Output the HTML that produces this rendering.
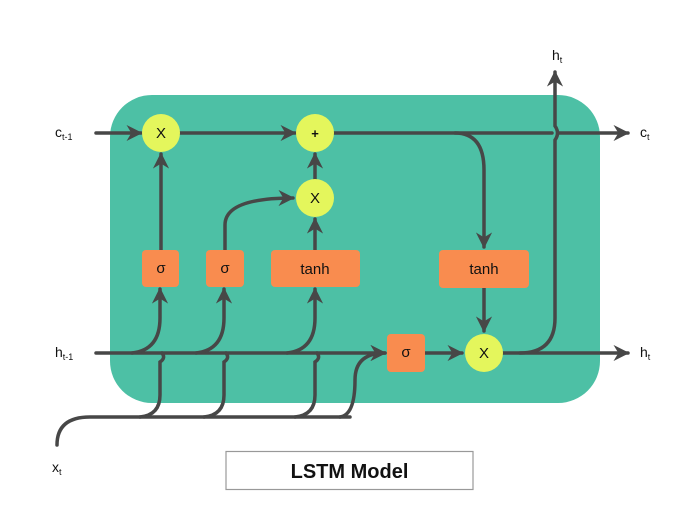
<!DOCTYPE html>
<html><head><meta charset="utf-8"><style>
html,body{margin:0;padding:0;background:#fff;}
svg{display:block;}
text{font-family:"Liberation Sans",sans-serif;}
</style></head><body>
<svg width="700" height="525" viewBox="0 0 700 525" xmlns="http://www.w3.org/2000/svg">
<defs>
<marker id="a" viewBox="0 0 10 10" refX="9" refY="5" markerWidth="4.6" markerHeight="4.6" orient="auto" markerUnits="strokeWidth">
<path d="M0,0 L10,5 L0,10 L3,5 z" fill="#474747"/>
</marker>
</defs>
<rect x="110" y="95" width="490" height="308" rx="42" fill="#4dc0a5"/>
<g fill="none" stroke="#474747" stroke-width="3.5" stroke-linecap="round">
<path d="M96,133 L141,133" marker-end="url(#a)"/>
<path d="M180,133 L295,133" marker-end="url(#a)"/>
<path d="M334,133 L552,133 M559,133 L628,133" marker-end="url(#a)"/>
<path d="M455,133 Q484,133 484,170 L484,247" marker-end="url(#a)"/>
<path d="M161,250 L161,154" marker-end="url(#a)"/>
<path d="M315,180 L315,154" marker-end="url(#a)"/>
<path d="M315,250 L315,219" marker-end="url(#a)"/>
<path d="M225,250 L225,225 Q225,198 293,198" marker-end="url(#a)"/>
<path d="M484,288 L484,331" marker-end="url(#a)"/>
<path d="M96,353 L385,353" marker-end="url(#a)"/>
<path d="M425,353 L462,353" marker-end="url(#a)"/>
<path d="M503,353 L628,353" marker-end="url(#a)"/>
<path d="M520,353 Q555,353 555,318 L555,140 Q560,133 555,126 L555,72" marker-end="url(#a)"/>
<path d="M132,353 Q160,350 160,318 L160,289" marker-end="url(#a)"/>
<path d="M196,353 Q224,350 224,318 L224,289" marker-end="url(#a)"/>
<path d="M287,353 Q315,350 315,318 L315,289" marker-end="url(#a)"/>
<path d="M57,445 Q57,417 90,417 L350,417"/>
<path d="M140,417 Q160,415 160,395 L160,362 Q166,358 162,353"/>
<path d="M204,417 Q224,415 224,395 L224,362 Q230,358 226,353"/>
<path d="M295,417 Q315,415 315,395 L315,362 Q321,358 317,353"/>
<path d="M340,417 Q355,415 355,380 Q355,353 385,353" marker-end="url(#a)"/>
</g>
<g fill="#f98c4f">
<rect x="142" y="250" width="37" height="37" rx="4"/>
<rect x="206" y="250" width="38" height="37" rx="4"/>
<rect x="271" y="250" width="89" height="37" rx="4"/>
<rect x="439" y="250" width="90" height="38" rx="4"/>
<rect x="387" y="334" width="38" height="38" rx="4"/>
</g>
<g fill="#e4f65c">
<circle cx="161" cy="133" r="19"/>
<circle cx="315" cy="133" r="19"/>
<circle cx="315" cy="198" r="19"/>
<circle cx="484" cy="353" r="19"/>
</g>
<g font-size="15" fill="#111" text-anchor="middle">
<text x="161" y="138">X</text>
<text x="315" y="138" font-size="13" font-weight="bold">+</text>
<text x="315" y="203">X</text>
<text x="484" y="358">X</text>
<text x="161" y="273">σ</text>
<text x="225" y="273">σ</text>
<text x="406" y="357">σ</text>
<text x="315" y="274">tanh</text>
<text x="484" y="274">tanh</text>
</g>
<g font-size="14" fill="#111">
<text x="55" y="137">c<tspan font-size="9" dy="3">t-1</tspan></text>
<text x="55" y="357">h<tspan font-size="9" dy="3">t-1</tspan></text>
<text x="640" y="137">c<tspan font-size="9" dy="3">t</tspan></text>
<text x="640" y="357">h<tspan font-size="9" dy="3">t</tspan></text>
<text x="552" y="60">h<tspan font-size="9" dy="3">t</tspan></text>
<text x="52" y="472">x<tspan font-size="9" dy="3">t</tspan></text>
</g>
<rect x="226" y="451.5" width="247" height="38" fill="#fff" stroke="#999" stroke-width="1.2"/>
<text x="349.5" y="478" font-size="20" font-weight="bold" text-anchor="middle" fill="#111">LSTM Model</text>
</svg>
</body></html>
